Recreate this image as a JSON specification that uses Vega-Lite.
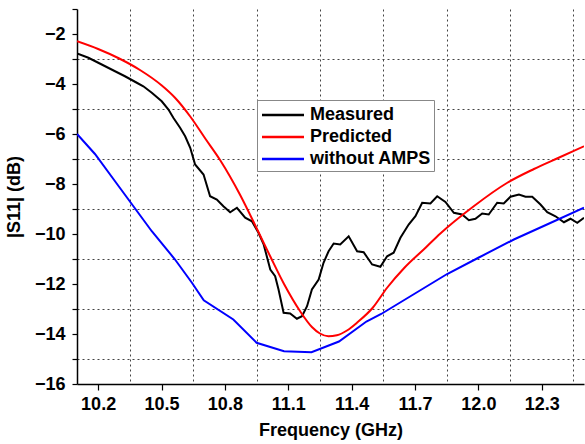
{
  "$schema": "https://vega.github.io/schema/vega-lite/v6.json",
  "autosize": {"type": "none"},
  "padding": {"left": 77, "top": 9, "right": 1, "bottom": 60},
  "width": 507,
  "height": 375,
  "background": "white",
  "config": {
    "view": {"stroke": null},
    "font": "Liberation Sans",
    "axis": {"labelFont": "Liberation Sans", "titleFont": "Liberation Sans", "labelFontWeight": "bold", "titleFontWeight": "bold", "labelFontSize": 18, "titleFontSize": 18, "labelColor": "#000", "titleColor": "#000", "domainColor": "#000", "tickColor": "#000", "domainWidth": 1.5, "tickWidth": 1.2}
  },
  "data": {"values": [
    {"f": 10.1, "v": -2.78, "s": "Measured"},
    {"f": 10.154, "v": -2.95, "s": "Measured"},
    {"f": 10.217, "v": -3.22, "s": "Measured"},
    {"f": 10.28, "v": -3.49, "s": "Measured"},
    {"f": 10.327, "v": -3.69, "s": "Measured"},
    {"f": 10.383, "v": -3.95, "s": "Measured"},
    {"f": 10.414, "v": -4.09, "s": "Measured"},
    {"f": 10.454, "v": -4.35, "s": "Measured"},
    {"f": 10.501, "v": -4.69, "s": "Measured"},
    {"f": 10.533, "v": -5.02, "s": "Measured"},
    {"f": 10.556, "v": -5.35, "s": "Measured"},
    {"f": 10.588, "v": -5.75, "s": "Measured"},
    {"f": 10.612, "v": -6.09, "s": "Measured"},
    {"f": 10.636, "v": -6.55, "s": "Measured"},
    {"f": 10.659, "v": -7.22, "s": "Measured"},
    {"f": 10.699, "v": -7.62, "s": "Measured"},
    {"f": 10.73, "v": -8.49, "s": "Measured"},
    {"f": 10.762, "v": -8.62, "s": "Measured"},
    {"f": 10.793, "v": -8.89, "s": "Measured"},
    {"f": 10.825, "v": -9.13, "s": "Measured"},
    {"f": 10.857, "v": -8.95, "s": "Measured"},
    {"f": 10.896, "v": -9.35, "s": "Measured"},
    {"f": 10.928, "v": -9.49, "s": "Measured"},
    {"f": 10.959, "v": -9.95, "s": "Measured"},
    {"f": 10.983, "v": -10.4, "s": "Measured"},
    {"f": 11.015, "v": -11.42, "s": "Measured"},
    {"f": 11.038, "v": -11.69, "s": "Measured"},
    {"f": 11.054, "v": -12.22, "s": "Measured"},
    {"f": 11.078, "v": -13.15, "s": "Measured"},
    {"f": 11.109, "v": -13.18, "s": "Measured"},
    {"f": 11.141, "v": -13.39, "s": "Measured"},
    {"f": 11.165, "v": -13.29, "s": "Measured"},
    {"f": 11.189, "v": -12.89, "s": "Measured"},
    {"f": 11.212, "v": -12.22, "s": "Measured"},
    {"f": 11.244, "v": -11.82, "s": "Measured"},
    {"f": 11.267, "v": -11.15, "s": "Measured"},
    {"f": 11.291, "v": -10.69, "s": "Measured"},
    {"f": 11.315, "v": -10.38, "s": "Measured"},
    {"f": 11.346, "v": -10.42, "s": "Measured"},
    {"f": 11.386, "v": -10.09, "s": "Measured"},
    {"f": 11.426, "v": -10.69, "s": "Measured"},
    {"f": 11.457, "v": -10.73, "s": "Measured"},
    {"f": 11.497, "v": -11.22, "s": "Measured"},
    {"f": 11.536, "v": -11.31, "s": "Measured"},
    {"f": 11.568, "v": -10.89, "s": "Measured"},
    {"f": 11.599, "v": -10.75, "s": "Measured"},
    {"f": 11.631, "v": -10.15, "s": "Measured"},
    {"f": 11.67, "v": -9.62, "s": "Measured"},
    {"f": 11.702, "v": -9.29, "s": "Measured"},
    {"f": 11.734, "v": -8.75, "s": "Measured"},
    {"f": 11.773, "v": -8.78, "s": "Measured"},
    {"f": 11.805, "v": -8.49, "s": "Measured"},
    {"f": 11.844, "v": -8.72, "s": "Measured"},
    {"f": 11.884, "v": -9.15, "s": "Measured"},
    {"f": 11.923, "v": -9.22, "s": "Measured"},
    {"f": 11.955, "v": -9.45, "s": "Measured"},
    {"f": 11.986, "v": -9.39, "s": "Measured"},
    {"f": 12.018, "v": -9.18, "s": "Measured"},
    {"f": 12.049, "v": -9.22, "s": "Measured"},
    {"f": 12.089, "v": -8.75, "s": "Measured"},
    {"f": 12.12, "v": -8.78, "s": "Measured"},
    {"f": 12.152, "v": -8.51, "s": "Measured"},
    {"f": 12.192, "v": -8.42, "s": "Measured"},
    {"f": 12.223, "v": -8.51, "s": "Measured"},
    {"f": 12.255, "v": -8.51, "s": "Measured"},
    {"f": 12.294, "v": -8.82, "s": "Measured"},
    {"f": 12.326, "v": -9.13, "s": "Measured"},
    {"f": 12.365, "v": -9.29, "s": "Measured"},
    {"f": 12.405, "v": -9.53, "s": "Measured"},
    {"f": 12.436, "v": -9.39, "s": "Measured"},
    {"f": 12.468, "v": -9.55, "s": "Measured"},
    {"f": 12.5, "v": -9.35, "s": "Measured"},
    {"f": 10.1, "v": -2.29, "s": "Predicted"},
    {"f": 10.2, "v": -2.6, "s": "Predicted"},
    {"f": 10.3, "v": -2.98, "s": "Predicted"},
    {"f": 10.4, "v": -3.45, "s": "Predicted"},
    {"f": 10.5, "v": -4.05, "s": "Predicted"},
    {"f": 10.564, "v": -4.55, "s": "Predicted"},
    {"f": 10.636, "v": -5.3, "s": "Predicted"},
    {"f": 10.707, "v": -6.18, "s": "Predicted"},
    {"f": 10.778, "v": -7.05, "s": "Predicted"},
    {"f": 10.873, "v": -8.45, "s": "Predicted"},
    {"f": 10.952, "v": -9.8, "s": "Predicted"},
    {"f": 11.015, "v": -10.9, "s": "Predicted"},
    {"f": 11.08, "v": -12.0, "s": "Predicted"},
    {"f": 11.157, "v": -13.1, "s": "Predicted"},
    {"f": 11.212, "v": -13.72, "s": "Predicted"},
    {"f": 11.25, "v": -13.98, "s": "Predicted"},
    {"f": 11.29, "v": -14.09, "s": "Predicted"},
    {"f": 11.33, "v": -14.05, "s": "Predicted"},
    {"f": 11.38, "v": -13.85, "s": "Predicted"},
    {"f": 11.425, "v": -13.55, "s": "Predicted"},
    {"f": 11.5, "v": -12.95, "s": "Predicted"},
    {"f": 11.568, "v": -12.15, "s": "Predicted"},
    {"f": 11.65, "v": -11.35, "s": "Predicted"},
    {"f": 11.75, "v": -10.55, "s": "Predicted"},
    {"f": 11.82, "v": -9.98, "s": "Predicted"},
    {"f": 11.978, "v": -8.89, "s": "Predicted"},
    {"f": 12.137, "v": -7.95, "s": "Predicted"},
    {"f": 12.263, "v": -7.4, "s": "Predicted"},
    {"f": 12.38, "v": -6.95, "s": "Predicted"},
    {"f": 12.5, "v": -6.49, "s": "Predicted"},
    {"f": 10.1, "v": -6.0, "s": "without AMPS"},
    {"f": 10.185, "v": -6.8, "s": "without AMPS"},
    {"f": 10.28, "v": -7.89, "s": "without AMPS"},
    {"f": 10.367, "v": -8.89, "s": "without AMPS"},
    {"f": 10.454, "v": -9.89, "s": "without AMPS"},
    {"f": 10.564, "v": -11.02, "s": "without AMPS"},
    {"f": 10.644, "v": -11.95, "s": "without AMPS"},
    {"f": 10.7, "v": -12.65, "s": "without AMPS"},
    {"f": 10.84, "v": -13.42, "s": "without AMPS"},
    {"f": 10.95, "v": -14.35, "s": "without AMPS"},
    {"f": 11.08, "v": -14.69, "s": "without AMPS"},
    {"f": 11.21, "v": -14.73, "s": "without AMPS"},
    {"f": 11.34, "v": -14.3, "s": "without AMPS"},
    {"f": 11.47, "v": -13.5, "s": "without AMPS"},
    {"f": 11.54, "v": -13.2, "s": "without AMPS"},
    {"f": 11.852, "v": -11.6, "s": "without AMPS"},
    {"f": 12.0, "v": -10.95, "s": "without AMPS"},
    {"f": 12.168, "v": -10.22, "s": "without AMPS"},
    {"f": 12.33, "v": -9.6, "s": "without AMPS"},
    {"f": 12.5, "v": -8.95, "s": "without AMPS"}
  ]},
  "encoding": {
    "x": {
      "field": "f", "type": "quantitative", "title": "Frequency (GHz)",
      "scale": {"domain": [10.1, 12.5], "nice": false, "zero": false},
      "axis": {
        "values": [10.2, 10.35, 10.5, 10.65, 10.8, 10.95, 11.1, 11.25, 11.4, 11.55, 11.7, 11.85, 12.0, 12.15, 12.3, 12.45],
        "labelExpr": "round(datum.value*100) % 30 == 0 ? format(datum.value, '.1f') : ''",
        "grid": true,
        "gridDash": [2, 3],
        "gridColor": "#444",
        "gridWidth": 1,
        "gridOpacity": {"condition": {"test": "round(datum.value*100) % 30 == 0", "value": 0}, "value": 1},
        "tickOpacity": {"condition": {"test": "round(datum.value*100) % 30 == 0", "value": 1}, "value": 0},
        "tickSize": 6,
        "labelPadding": 5,
        "titlePadding": 8,
        "labelFlush": false,
        "labelOverlap": false
      }
    },
    "y": {
      "field": "v", "type": "quantitative", "title": "|S11| (dB)",
      "scale": {"domain": [-16, -1], "nice": false, "zero": false},
      "axis": {
        "values": [-16, -15, -14, -13, -12, -11, -10, -9, -8, -7, -6, -5, -4, -3, -2, -1],
        "labelExpr": "datum.value % 2 == 0 ? format(datum.value, 'd') : ''",
        "grid": true,
        "gridDash": [2, 3],
        "gridColor": "#444",
        "gridWidth": 1,
        "gridOpacity": {"condition": {"test": "datum.value % 2 == 0 || datum.value == -1", "value": 0}, "value": 1},
        "tickSize": 5,
        "labelPadding": 7,
        "titlePadding": 11,
        "labelFlush": false,
        "labelOverlap": false
      }
    },
    "color": {
      "field": "s", "type": "nominal",
      "scale": {"domain": ["Measured", "Predicted", "without AMPS"], "range": ["#000000", "#ff0000", "#0000ff"]},
      "legend": {
        "title": null,
        "orient": "none",
        "legendX": 180,
        "legendY": 91,
        "symbolType": "M0,0H4",
        "symbolSize": 441,
        "symbolOffset": -10,
        "symbolStrokeWidth": 2.5,
        "labelFont": "Liberation Sans",
        "labelFontWeight": "bold",
        "labelFontSize": 18,
        "labelColor": "#000",
        "labelOffset": 36,
        "rowPadding": 1,
        "padding": 3,
        "strokeColor": "#888",
        "fillColor": "#ffffff"
      }
    }
  },
  "layer": [
    {
      "transform": [{"filter": "datum.s != 'Predicted'"}],
      "mark": {"type": "line", "strokeWidth": 2, "clip": true}
    },
    {
      "transform": [{"filter": "datum.s == 'Predicted'"}],
      "mark": {"type": "line", "strokeWidth": 2, "clip": true, "interpolate": "monotone"}
    }
  ]
}
